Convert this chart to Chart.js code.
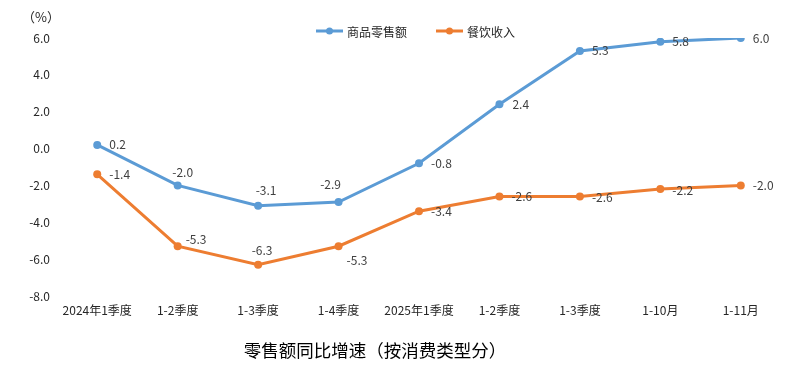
<!DOCTYPE html>
<html>
<head>
<meta charset="utf-8">
<script src="https://cdn.jsdelivr.net/npm/chart.js@4"></script>
<style>
  html, body { margin: 0; padding: 0; background: #fff; }
  #wrap { position: relative; width: 798px; height: 371px; }
</style>
</head>
<body>
<div id="wrap"><canvas id="salesChart" width="798" height="371"></canvas></div>
<script>
// 분기/월 구간
const categories = ['2024年1季度', '1-2季度', '1-3季度', '1-4季度', '2025年1季度', '1-2季度', '1-3季度', '1-10月', '1-11月'];
// 商品零售额
const goodsRetail = [0.2, -2.0, -3.1, -2.9, -0.8, 2.4, 5.3, 5.8, 6.0];
// 餐饮收入
const cateringIncome = [-1.4, -5.3, -6.3, -5.3, -3.4, -2.6, -2.6, -2.2, -2.0];
const yTicks = [-8, -6, -4, -2, 0, 2, 4, 6];

const FONT = '"Noto Sans CJK SC", "Noto Sans", sans-serif';

// 데이터 라벨 위치 (dx, dy, align)
const labelPlacement = [
    [[12, 0, 'left'], [5, -13, 'center'], [8, -15, 'center'], [-8, -18, 'center'], [12, 0, 'left'],
     [13, 0, 'left'], [12, 0, 'left'], [12, 0, 'left'], [12, 0, 'left']],
    [[12, 0, 'left'], [8, -7, 'left'], [4, -14, 'center'], [8, 14, 'left'], [12, 0, 'left'],
     [12, 0, 'left'], [12, 1, 'left'], [12, 1, 'left'], [12, 0, 'left']]
];

const extrasPlugin = {
    id: 'extras',
    afterDatasetsDraw(chart) {
        const ctx = chart.ctx;
        ctx.save();
        // 데이터 라벨
        ctx.font = '12px ' + FONT;
        ctx.fillStyle = '#404040';
        ctx.textBaseline = 'middle';
        chart.data.datasets.forEach((ds, di) => {
            const meta = chart.getDatasetMeta(di);
            meta.data.forEach((pt, i) => {
                const p = labelPlacement[di][i];
                ctx.textAlign = p[2];
                ctx.fillText(ds.data[i].toFixed(1), pt.x + p[0], pt.y + p[1]);
            });
        });

        // 범례
        const legendX = [316, 436];
        const legendY = 31;
        chart.data.datasets.forEach((ds, di) => {
            const x = legendX[di];
            ctx.strokeStyle = ds.borderColor;
            ctx.lineWidth = 3;
            ctx.beginPath();
            ctx.moveTo(x, legendY);
            ctx.lineTo(x + 27, legendY);
            ctx.stroke();
            ctx.fillStyle = ds.borderColor;
            ctx.beginPath();
            ctx.arc(x + 13.5, legendY, 3.5, 0, Math.PI * 2);
            ctx.fill();
            ctx.fillStyle = '#262626';
            ctx.font = '12px ' + FONT;
            ctx.textAlign = 'left';
            ctx.fillText(ds.label, x + 31, legendY + 1);
        });

        // 단위
        ctx.fillStyle = '#262626';
        ctx.font = '13px ' + FONT;
        ctx.textAlign = 'center';
        ctx.fillText('（%）', 41, 17);

        // 하단 제목
        ctx.fillStyle = '#000';
        ctx.font = '17.5px ' + FONT;
        ctx.fillText('零售额同比增速（按消费类型分）', 375, 350);
        ctx.restore();
    }
};

const ctx = document.getElementById('salesChart').getContext('2d');
new Chart(ctx, {
    type: 'line',
    data: {
        labels: categories,
        datasets: [{
            label: '商品零售额',
            data: goodsRetail,
            borderColor: '#5B9BD5',
            backgroundColor: '#5B9BD5',
            borderWidth: 3,
            pointRadius: 4,
            pointBorderWidth: 0,
            pointHoverRadius: 4,
            tension: 0
        }, {
            label: '餐饮收入',
            data: cateringIncome,
            borderColor: '#ED7D31',
            backgroundColor: '#ED7D31',
            borderWidth: 3,
            pointRadius: 4,
            pointBorderWidth: 0,
            pointHoverRadius: 4,
            tension: 0
        }]
    },
    options: {
        responsive: false,
        animation: false,
        layout: {
            padding: { left: 0, right: 17, top: 38, bottom: 51 }
        },
        scales: {
            x: {
                offset: true,
                grid: { display: false, drawTicks: false },
                border: { display: false },
                ticks: {
                    padding: 7,
                    maxRotation: 0,
                    autoSkip: false,
                    color: '#262626',
                    font: { family: FONT, size: 12 }
                },
                afterFit(scale) { scale.height = 24; }
            },
            y: {
                min: -8,
                max: 6,
                afterBuildTicks(scale) {
                    scale.ticks = yTicks.map(v => ({ value: v }));
                },
                grid: { display: false, drawTicks: false },
                border: { display: false },
                ticks: {
                    padding: 7,
                    color: '#262626',
                    font: { family: FONT, size: 12 },
                    callback: function(value) {
                        return Number(value).toFixed(1);
                    }
                },
                afterFit(scale) { scale.width = 57; }
            }
        },
        plugins: {
            legend: { display: false },
            tooltip: { enabled: false }
        }
    },
    plugins: [extrasPlugin]
});
</script>
</body>
</html>
